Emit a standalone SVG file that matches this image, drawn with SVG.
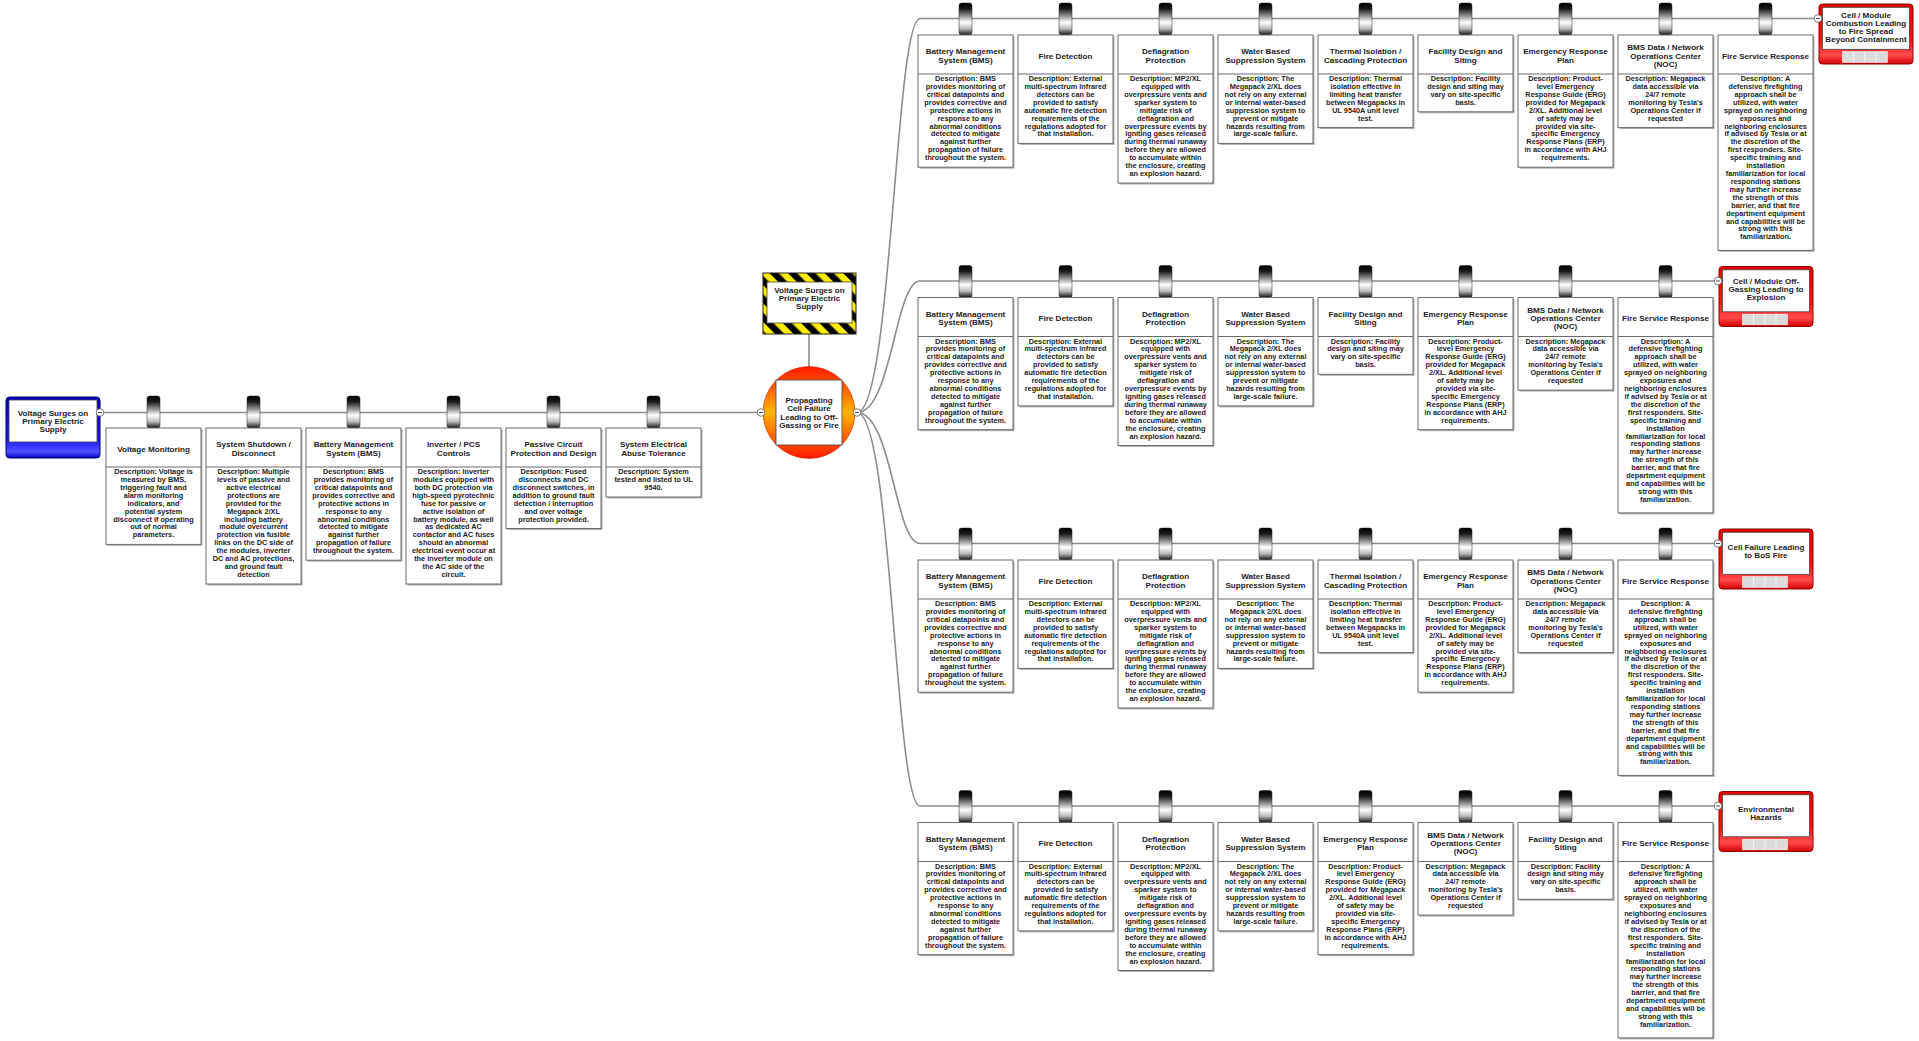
<svg xmlns="http://www.w3.org/2000/svg" width="1919" height="1041" viewBox="0 0 1919 1041">
<defs>
<style>
.t{font-family:"Liberation Sans",Arial,sans-serif;font-weight:bold;font-size:8.1px;fill:#1c1c24;text-anchor:middle}
.d{font-family:"Liberation Sans",Arial,sans-serif;font-weight:bold;font-size:7.3px;fill:#1c1c24;text-anchor:middle}
.box{fill:#fff;stroke:#6b6b6b;stroke-width:1}
.sh{fill:#b0b0b0}
.dv{stroke:#6b6b6b;stroke-width:1}
.knob{fill:url(#knobG);stroke:#222;stroke-width:0.5}
.conn{fill:none;stroke:#8c8c8c;stroke-width:1.6}
.cc{fill:#fff;stroke:#555;stroke-width:0.8}
.cm{stroke:#333;stroke-width:0.9}
.inner{fill:#fff;stroke:#444;stroke-width:0.8}
.sq{fill:#dcdcdc;stroke:#fff;stroke-width:0.6}
.cons{fill:url(#redG);stroke:#8b0000;stroke-width:1}
</style>
<linearGradient id="knobG" x1="0" y1="0" x2="0" y2="1">
<stop offset="0" stop-color="#000"/><stop offset="0.18" stop-color="#1a1a1a"/><stop offset="0.42" stop-color="#999"/><stop offset="0.6" stop-color="#fff"/><stop offset="0.8" stop-color="#bbb"/><stop offset="1" stop-color="#111"/>
</linearGradient>
<linearGradient id="redG" x1="0" y1="0" x2="0" y2="1">
<stop offset="0" stop-color="#e80000"/><stop offset="0.6" stop-color="#ff1010"/><stop offset="0.85" stop-color="#ff4a4a"/><stop offset="1" stop-color="#d40000"/>
</linearGradient>
<linearGradient id="blueG" x1="0" y1="0" x2="0" y2="1">
<stop offset="0" stop-color="#0000c0"/><stop offset="0.7" stop-color="#1a1aff"/><stop offset="0.9" stop-color="#5050ff"/><stop offset="1" stop-color="#0000d0"/>
</linearGradient>
<linearGradient id="orangeG" x1="0" y1="0" x2="0" y2="1">
<stop offset="0" stop-color="#ff1800"/><stop offset="0.5" stop-color="#ffb400"/><stop offset="1" stop-color="#ff1800"/>
</linearGradient>
<pattern id="stripes" patternUnits="userSpaceOnUse" width="13" height="13" patternTransform="rotate(-45)">
<rect width="13" height="13" fill="#ffee00"/><rect width="6.5" height="13" fill="#000"/>
</pattern>
</defs>
<rect width="1919" height="1041" fill="#fff"/>

<g id="connectors">
<path class="conn" d="M100,412.5 H761"/>
<path class="conn" d="M809,334 V367"/>
<path class="conn" d="M857,412.5 C892,412.5 895,18.5 920,18.5 H1818"/>
<path class="conn" d="M857,412.5 C892,412.5 895,281 920,281 H1718"/>
<path class="conn" d="M857,412.5 C892,412.5 895,543.5 920,543.5 H1718"/>
<path class="conn" d="M857,412.5 C892,412.5 895,806 920,806 H1718"/>
</g>

<g id="threat" transform="translate(6,397)">
<rect x="0" y="0" width="94" height="61" rx="3.5" fill="url(#blueG)" stroke="#000060"/>
<rect class="inner" x="3" y="3" width="88" height="42"/>
<text class="t" x="47"><tspan x="47" y="18.7">Voltage Surges on</tspan><tspan x="47" y="26.7">Primary Electric</tspan><tspan x="47" y="34.7">Supply</tspan></text>
<circle class="cc" cx="94" cy="15.5" r="3.8"/><line class="cm" x1="92" y1="15.5" x2="96" y2="15.5"/>
</g>

<g id="lb1" transform="translate(106,428)">
<rect class="knob" x="41" y="-32" width="13" height="32" rx="2.5"/>
<rect class="sh" x="1.5" y="1.5" width="95" height="116.4"/><rect class="box" width="95" height="116.4"/><line class="dv" x1="0" y1="39" x2="95" y2="39"/>
<text class="t" x="47.5" y="23.5">Voltage Monitoring</text>
<text class="d"><tspan x="47.5" y="46">Description: Voltage is</tspan><tspan x="47.5" dy="7.92">measured by BMS,</tspan><tspan x="47.5" dy="7.92">triggering fault and</tspan><tspan x="47.5" dy="7.92">alarm monitoring</tspan><tspan x="47.5" dy="7.92">indicators, and</tspan><tspan x="47.5" dy="7.92">potential system</tspan><tspan x="47.5" dy="7.92">disconnect if operating</tspan><tspan x="47.5" dy="7.92">out of normal</tspan><tspan x="47.5" dy="7.92">parameters.</tspan></text>
</g>
<g id="lb2" transform="translate(206,428)">
<rect class="knob" x="41" y="-32" width="13" height="32" rx="2.5"/>
<rect class="sh" x="1.5" y="1.5" width="95" height="156"/><rect class="box" width="95" height="156"/><line class="dv" x1="0" y1="39" x2="95" y2="39"/>
<text class="t"><tspan x="47.5" y="19.4">System Shutdown /</tspan><tspan x="47.5" y="27.7">Disconnect</tspan></text>
<text class="d"><tspan x="47.5" y="46">Description: Multiple</tspan><tspan x="47.5" dy="7.92">levels of passive and</tspan><tspan x="47.5" dy="7.92">active electrical</tspan><tspan x="47.5" dy="7.92">protections are</tspan><tspan x="47.5" dy="7.92">provided for the</tspan><tspan x="47.5" dy="7.92">Megapack 2/XL</tspan><tspan x="47.5" dy="7.92">including battery</tspan><tspan x="47.5" dy="7.92">module overcurrent</tspan><tspan x="47.5" dy="7.92">protection via fusible</tspan><tspan x="47.5" dy="7.92">links on the DC side of</tspan><tspan x="47.5" dy="7.92">the modules, inverter</tspan><tspan x="47.5" dy="7.92">DC and AC protections,</tspan><tspan x="47.5" dy="7.92">and ground fault</tspan><tspan x="47.5" dy="7.92">detection</tspan></text>
</g>
<g id="lb3" transform="translate(306,428)">
<rect class="knob" x="41" y="-32" width="13" height="32" rx="2.5"/>
<rect class="sh" x="1.5" y="1.5" width="95" height="132.2"/><rect class="box" width="95" height="132.2"/><line class="dv" x1="0" y1="39" x2="95" y2="39"/>
<text class="t"><tspan x="47.5" y="19.4">Battery Management</tspan><tspan x="47.5" y="27.7">System (BMS)</tspan></text>
<text class="d"><tspan x="47.5" y="46">Description: BMS</tspan><tspan x="47.5" dy="7.92">provides monitoring of</tspan><tspan x="47.5" dy="7.92">critical datapoints and</tspan><tspan x="47.5" dy="7.92">provides corrective and</tspan><tspan x="47.5" dy="7.92">protective actions in</tspan><tspan x="47.5" dy="7.92">response to any</tspan><tspan x="47.5" dy="7.92">abnormal conditions</tspan><tspan x="47.5" dy="7.92">detected to mitigate</tspan><tspan x="47.5" dy="7.92">against further</tspan><tspan x="47.5" dy="7.92">propagation of failure</tspan><tspan x="47.5" dy="7.92">throughout the system.</tspan></text>
</g>
<g id="lb4" transform="translate(406,428)">
<rect class="knob" x="41" y="-32" width="13" height="32" rx="2.5"/>
<rect class="sh" x="1.5" y="1.5" width="95" height="156"/><rect class="box" width="95" height="156"/><line class="dv" x1="0" y1="39" x2="95" y2="39"/>
<text class="t"><tspan x="47.5" y="19.4">Inverter / PCS</tspan><tspan x="47.5" y="27.7">Controls</tspan></text>
<text class="d"><tspan x="47.5" y="46">Description: Inverter</tspan><tspan x="47.5" dy="7.92">modules equipped with</tspan><tspan x="47.5" dy="7.92">both DC protection via</tspan><tspan x="47.5" dy="7.92">high-speed pyrotechnic</tspan><tspan x="47.5" dy="7.92">fuse for passive or</tspan><tspan x="47.5" dy="7.92">active isolation of</tspan><tspan x="47.5" dy="7.92">battery module, as well</tspan><tspan x="47.5" dy="7.92">as dedicated AC</tspan><tspan x="47.5" dy="7.92">contactor and AC fuses</tspan><tspan x="47.5" dy="7.92">should an abnormal</tspan><tspan x="47.5" dy="7.92">electrical event occur at</tspan><tspan x="47.5" dy="7.92">the inverter module on</tspan><tspan x="47.5" dy="7.92">the AC side of the</tspan><tspan x="47.5" dy="7.92">circuit.</tspan></text>
</g>
<g id="lb5" transform="translate(506,428)">
<rect class="knob" x="41" y="-32" width="13" height="32" rx="2.5"/>
<rect class="sh" x="1.5" y="1.5" width="95" height="100.5"/><rect class="box" width="95" height="100.5"/><line class="dv" x1="0" y1="39" x2="95" y2="39"/>
<text class="t"><tspan x="47.5" y="19.4">Passive Circuit</tspan><tspan x="47.5" y="27.7">Protection and Design</tspan></text>
<text class="d"><tspan x="47.5" y="46">Description: Fused</tspan><tspan x="47.5" dy="7.92">disconnects and DC</tspan><tspan x="47.5" dy="7.92">disconnect switches, in</tspan><tspan x="47.5" dy="7.92">addition to ground fault</tspan><tspan x="47.5" dy="7.92">detection / interruption</tspan><tspan x="47.5" dy="7.92">and over voltage</tspan><tspan x="47.5" dy="7.92">protection provided.</tspan></text>
</g>
<g id="lb6" transform="translate(606,428)">
<rect class="knob" x="41" y="-32" width="13" height="32" rx="2.5"/>
<rect class="sh" x="1.5" y="1.5" width="95" height="69"/><rect class="box" width="95" height="69"/><line class="dv" x1="0" y1="39" x2="95" y2="39"/>
<text class="t"><tspan x="47.5" y="19.4">System Electrical</tspan><tspan x="47.5" y="27.7">Abuse Tolerance</tspan></text>
<text class="d"><tspan x="47.5" y="46">Description: System</tspan><tspan x="47.5" dy="7.92">tested and listed to UL</tspan><tspan x="47.5" dy="7.92">9540.</tspan></text>
</g>

<g id="hazard">
<rect x="763" y="273" width="93" height="61" fill="url(#stripes)" stroke="#222"/>
<rect class="inner" x="767" y="282" width="85" height="41"/>
<text class="t"><tspan x="809.5" y="293">Voltage Surges on</tspan><tspan x="809.5" y="300.8">Primary Electric</tspan><tspan x="809.5" y="308.6">Supply</tspan></text>
</g>

<g id="top-event">
<circle cx="809" cy="412.5" r="46" fill="url(#orangeG)" stroke="#e02000" stroke-width="0.6"/>
<rect class="inner" x="776" y="380" width="66" height="65"/>
<text class="t"><tspan x="809" y="403">Propagating</tspan><tspan x="809" y="411.3">Cell Failure</tspan><tspan x="809" y="419.6">Leading to Off-</tspan><tspan x="809" y="427.9">Gassing or Fire</tspan></text>
<circle class="cc" cx="761" cy="412.5" r="3.8"/><line class="cm" x1="759" y1="412.5" x2="763" y2="412.5"/>
<circle class="cc" cx="857" cy="412.5" r="3.8"/><line class="cm" x1="855" y1="412.5" x2="859" y2="412.5"/>
</g>

<!-- Row 1 -->
<g id="r1b1" transform="translate(918,35)">
<rect class="knob" x="41" y="-32" width="13" height="32" rx="2.5"/>
<rect class="sh" x="1.5" y="1.5" width="95" height="132.2"/><rect class="box" width="95" height="132.2"/><line class="dv" x1="0" y1="39" x2="95" y2="39"/>
<text class="t"><tspan x="47.5" y="19.4">Battery Management</tspan><tspan x="47.5" y="27.7">System (BMS)</tspan></text>
<text class="d"><tspan x="47.5" y="46">Description: BMS</tspan><tspan x="47.5" dy="7.92">provides monitoring of</tspan><tspan x="47.5" dy="7.92">critical datapoints and</tspan><tspan x="47.5" dy="7.92">provides corrective and</tspan><tspan x="47.5" dy="7.92">protective actions in</tspan><tspan x="47.5" dy="7.92">response to any</tspan><tspan x="47.5" dy="7.92">abnormal conditions</tspan><tspan x="47.5" dy="7.92">detected to mitigate</tspan><tspan x="47.5" dy="7.92">against further</tspan><tspan x="47.5" dy="7.92">propagation of failure</tspan><tspan x="47.5" dy="7.92">throughout the system.</tspan></text>
</g>
<g id="r1b2" transform="translate(1018,35)">
<rect class="knob" x="41" y="-32" width="13" height="32" rx="2.5"/>
<rect class="sh" x="1.5" y="1.5" width="95" height="108.4"/><rect class="box" width="95" height="108.4"/><line class="dv" x1="0" y1="39" x2="95" y2="39"/>
<text class="t" x="47.5" y="23.5">Fire Detection</text>
<text class="d"><tspan x="47.5" y="46">Description: External</tspan><tspan x="47.5" dy="7.92">multi-spectrum infrared</tspan><tspan x="47.5" dy="7.92">detectors can be</tspan><tspan x="47.5" dy="7.92">provided to satisfy</tspan><tspan x="47.5" dy="7.92">automatic fire detection</tspan><tspan x="47.5" dy="7.92">requirements of the</tspan><tspan x="47.5" dy="7.92">regulations adopted for</tspan><tspan x="47.5" dy="7.92">that installation.</tspan></text>
</g>
<g id="r1b3" transform="translate(1118,35)">
<rect class="knob" x="41" y="-32" width="13" height="32" rx="2.5"/>
<rect class="sh" x="1.5" y="1.5" width="95" height="148"/><rect class="box" width="95" height="148"/><line class="dv" x1="0" y1="39" x2="95" y2="39"/>
<text class="t"><tspan x="47.5" y="19.4">Deflagration</tspan><tspan x="47.5" y="27.7">Protection</tspan></text>
<text class="d"><tspan x="47.5" y="46">Description: MP2/XL</tspan><tspan x="47.5" dy="7.92">equipped with</tspan><tspan x="47.5" dy="7.92">overpressure vents and</tspan><tspan x="47.5" dy="7.92">sparker system to</tspan><tspan x="47.5" dy="7.92">mitigate risk of</tspan><tspan x="47.5" dy="7.92">deflagration and</tspan><tspan x="47.5" dy="7.92">overpressure events by</tspan><tspan x="47.5" dy="7.92">igniting gases released</tspan><tspan x="47.5" dy="7.92">during thermal runaway</tspan><tspan x="47.5" dy="7.92">before they are allowed</tspan><tspan x="47.5" dy="7.92">to accumulate within</tspan><tspan x="47.5" dy="7.92">the enclosure, creating</tspan><tspan x="47.5" dy="7.92">an explosion hazard.</tspan></text>
</g>
<g id="r1b4" transform="translate(1218,35)">
<rect class="knob" x="41" y="-32" width="13" height="32" rx="2.5"/>
<rect class="sh" x="1.5" y="1.5" width="95" height="108.4"/><rect class="box" width="95" height="108.4"/><line class="dv" x1="0" y1="39" x2="95" y2="39"/>
<text class="t"><tspan x="47.5" y="19.4">Water Based</tspan><tspan x="47.5" y="27.7">Suppression System</tspan></text>
<text class="d"><tspan x="47.5" y="46">Description: The</tspan><tspan x="47.5" dy="7.92">Megapack 2/XL does</tspan><tspan x="47.5" dy="7.92">not rely on any external</tspan><tspan x="47.5" dy="7.92">or internal water-based</tspan><tspan x="47.5" dy="7.92">suppression system to</tspan><tspan x="47.5" dy="7.92">prevent or mitigate</tspan><tspan x="47.5" dy="7.92">hazards resulting from</tspan><tspan x="47.5" dy="7.92">large-scale failure.</tspan></text>
</g>
<g id="r1b5" transform="translate(1318,35)">
<rect class="knob" x="41" y="-32" width="13" height="32" rx="2.5"/>
<rect class="sh" x="1.5" y="1.5" width="95" height="92.6"/><rect class="box" width="95" height="92.6"/><line class="dv" x1="0" y1="39" x2="95" y2="39"/>
<text class="t"><tspan x="47.5" y="19.4">Thermal Isolation /</tspan><tspan x="47.5" y="27.7">Cascading Protection</tspan></text>
<text class="d"><tspan x="47.5" y="46">Description: Thermal</tspan><tspan x="47.5" dy="7.92">isolation effective in</tspan><tspan x="47.5" dy="7.92">limiting heat transfer</tspan><tspan x="47.5" dy="7.92">between Megapacks in</tspan><tspan x="47.5" dy="7.92">UL 9540A unit level</tspan><tspan x="47.5" dy="7.92">test.</tspan></text>
</g>
<g id="r1b6" transform="translate(1418,35)">
<rect class="knob" x="41" y="-32" width="13" height="32" rx="2.5"/>
<rect class="sh" x="1.5" y="1.5" width="95" height="76.8"/><rect class="box" width="95" height="76.8"/><line class="dv" x1="0" y1="39" x2="95" y2="39"/>
<text class="t"><tspan x="47.5" y="19.4">Facility Design and</tspan><tspan x="47.5" y="27.7">Siting</tspan></text>
<text class="d"><tspan x="47.5" y="46">Description: Facility</tspan><tspan x="47.5" dy="7.92">design and siting may</tspan><tspan x="47.5" dy="7.92">vary on site-specific</tspan><tspan x="47.5" dy="7.92">basis.</tspan></text>
</g>
<g id="r1b7" transform="translate(1518,35)">
<rect class="knob" x="41" y="-32" width="13" height="32" rx="2.5"/>
<rect class="sh" x="1.5" y="1.5" width="95" height="132.2"/><rect class="box" width="95" height="132.2"/><line class="dv" x1="0" y1="39" x2="95" y2="39"/>
<text class="t"><tspan x="47.5" y="19.4">Emergency Response</tspan><tspan x="47.5" y="27.7">Plan</tspan></text>
<text class="d"><tspan x="47.5" y="46">Description: Product-</tspan><tspan x="47.5" dy="7.92">level Emergency</tspan><tspan x="47.5" dy="7.92">Response Guide (ERG)</tspan><tspan x="47.5" dy="7.92">provided for Megapack</tspan><tspan x="47.5" dy="7.92">2/XL. Additional level</tspan><tspan x="47.5" dy="7.92">of safety may be</tspan><tspan x="47.5" dy="7.92">provided via site-</tspan><tspan x="47.5" dy="7.92">specific Emergency</tspan><tspan x="47.5" dy="7.92">Response Plans (ERP)</tspan><tspan x="47.5" dy="7.92">in accordance with AHJ</tspan><tspan x="47.5" dy="7.92">requirements.</tspan></text>
</g>
<g id="r1b8" transform="translate(1618,35)">
<rect class="knob" x="41" y="-32" width="13" height="32" rx="2.5"/>
<rect class="sh" x="1.5" y="1.5" width="95" height="92.6"/><rect class="box" width="95" height="92.6"/><line class="dv" x1="0" y1="39" x2="95" y2="39"/>
<text class="t"><tspan x="47.5" y="15.2">BMS Data / Network</tspan><tspan x="47.5" y="23.5">Operations Center</tspan><tspan x="47.5" y="31.8">(NOC)</tspan></text>
<text class="d"><tspan x="47.5" y="46">Description: Megapack</tspan><tspan x="47.5" dy="7.92">data accessible via</tspan><tspan x="47.5" dy="7.92">24/7 remote</tspan><tspan x="47.5" dy="7.92">monitoring by Tesla's</tspan><tspan x="47.5" dy="7.92">Operations Center if</tspan><tspan x="47.5" dy="7.92">requested</tspan></text>
</g>
<g id="r1b9" transform="translate(1718,35)">
<rect class="knob" x="41" y="-32" width="13" height="32" rx="2.5"/>
<rect class="sh" x="1.5" y="1.5" width="95" height="215.4"/><rect class="box" width="95" height="215.4"/><line class="dv" x1="0" y1="39" x2="95" y2="39"/>
<text class="t" x="47.5" y="23.5">Fire Service Response</text>
<text class="d"><tspan x="47.5" y="46">Description: A</tspan><tspan x="47.5" dy="7.92">defensive firefighting</tspan><tspan x="47.5" dy="7.92">approach shall be</tspan><tspan x="47.5" dy="7.92">utilized, with water</tspan><tspan x="47.5" dy="7.92">sprayed on neighboring</tspan><tspan x="47.5" dy="7.92">exposures and</tspan><tspan x="47.5" dy="7.92">neighboring enclosures</tspan><tspan x="47.5" dy="7.92">if advised by Tesla or at</tspan><tspan x="47.5" dy="7.92">the discretion of the</tspan><tspan x="47.5" dy="7.92">first responders. Site-</tspan><tspan x="47.5" dy="7.92">specific training and</tspan><tspan x="47.5" dy="7.92">installation</tspan><tspan x="47.5" dy="7.92">familiarization for local</tspan><tspan x="47.5" dy="7.92">responding stations</tspan><tspan x="47.5" dy="7.92">may further increase</tspan><tspan x="47.5" dy="7.92">the strength of this</tspan><tspan x="47.5" dy="7.92">barrier, and that fire</tspan><tspan x="47.5" dy="7.92">department equipment</tspan><tspan x="47.5" dy="7.92">and capabilities will be</tspan><tspan x="47.5" dy="7.92">strong with this</tspan><tspan x="47.5" dy="7.92">familiarization.</tspan></text>
</g>
<g id="c1" transform="translate(1819,4)">
<rect class="cons" width="94" height="60" rx="3.5"/>
<rect class="inner" x="3.5" y="3.3" width="87" height="42"/>
<rect class="sq" x="23.5" y="47.7" width="11.2" height="10.6"/><rect class="sq" x="34.7" y="47.7" width="11.2" height="10.6"/><rect class="sq" x="45.9" y="47.7" width="11.2" height="10.6"/><rect class="sq" x="57.1" y="47.7" width="11.2" height="10.6"/>
<text class="t"><tspan x="47" y="13.9">Cell / Module</tspan><tspan x="47" y="22">Combustion Leading</tspan><tspan x="47" y="30.1">to Fire Spread</tspan><tspan x="47" y="38.2">Beyond Containment</tspan></text>
<circle class="cc" cx="-1" cy="14.5" r="3.8"/><line class="cm" x1="-3" y1="14.5" x2="1" y2="14.5"/>
</g>

<!-- Row 2 -->
<g id="r2b1" transform="translate(918,297.5)">
<rect class="knob" x="41" y="-32" width="13" height="32" rx="2.5"/>
<rect class="sh" x="1.5" y="1.5" width="95" height="132.2"/><rect class="box" width="95" height="132.2"/><line class="dv" x1="0" y1="39" x2="95" y2="39"/>
<text class="t"><tspan x="47.5" y="19.4">Battery Management</tspan><tspan x="47.5" y="27.7">System (BMS)</tspan></text>
<text class="d"><tspan x="47.5" y="46">Description: BMS</tspan><tspan x="47.5" dy="7.92">provides monitoring of</tspan><tspan x="47.5" dy="7.92">critical datapoints and</tspan><tspan x="47.5" dy="7.92">provides corrective and</tspan><tspan x="47.5" dy="7.92">protective actions in</tspan><tspan x="47.5" dy="7.92">response to any</tspan><tspan x="47.5" dy="7.92">abnormal conditions</tspan><tspan x="47.5" dy="7.92">detected to mitigate</tspan><tspan x="47.5" dy="7.92">against further</tspan><tspan x="47.5" dy="7.92">propagation of failure</tspan><tspan x="47.5" dy="7.92">throughout the system.</tspan></text>
</g>
<g id="r2b2" transform="translate(1018,297.5)">
<rect class="knob" x="41" y="-32" width="13" height="32" rx="2.5"/>
<rect class="sh" x="1.5" y="1.5" width="95" height="108.4"/><rect class="box" width="95" height="108.4"/><line class="dv" x1="0" y1="39" x2="95" y2="39"/>
<text class="t" x="47.5" y="23.5">Fire Detection</text>
<text class="d"><tspan x="47.5" y="46">Description: External</tspan><tspan x="47.5" dy="7.92">multi-spectrum infrared</tspan><tspan x="47.5" dy="7.92">detectors can be</tspan><tspan x="47.5" dy="7.92">provided to satisfy</tspan><tspan x="47.5" dy="7.92">automatic fire detection</tspan><tspan x="47.5" dy="7.92">requirements of the</tspan><tspan x="47.5" dy="7.92">regulations adopted for</tspan><tspan x="47.5" dy="7.92">that installation.</tspan></text>
</g>
<g id="r2b3" transform="translate(1118,297.5)">
<rect class="knob" x="41" y="-32" width="13" height="32" rx="2.5"/>
<rect class="sh" x="1.5" y="1.5" width="95" height="148"/><rect class="box" width="95" height="148"/><line class="dv" x1="0" y1="39" x2="95" y2="39"/>
<text class="t"><tspan x="47.5" y="19.4">Deflagration</tspan><tspan x="47.5" y="27.7">Protection</tspan></text>
<text class="d"><tspan x="47.5" y="46">Description: MP2/XL</tspan><tspan x="47.5" dy="7.92">equipped with</tspan><tspan x="47.5" dy="7.92">overpressure vents and</tspan><tspan x="47.5" dy="7.92">sparker system to</tspan><tspan x="47.5" dy="7.92">mitigate risk of</tspan><tspan x="47.5" dy="7.92">deflagration and</tspan><tspan x="47.5" dy="7.92">overpressure events by</tspan><tspan x="47.5" dy="7.92">igniting gases released</tspan><tspan x="47.5" dy="7.92">during thermal runaway</tspan><tspan x="47.5" dy="7.92">before they are allowed</tspan><tspan x="47.5" dy="7.92">to accumulate within</tspan><tspan x="47.5" dy="7.92">the enclosure, creating</tspan><tspan x="47.5" dy="7.92">an explosion hazard.</tspan></text>
</g>
<g id="r2b4" transform="translate(1218,297.5)">
<rect class="knob" x="41" y="-32" width="13" height="32" rx="2.5"/>
<rect class="sh" x="1.5" y="1.5" width="95" height="108.4"/><rect class="box" width="95" height="108.4"/><line class="dv" x1="0" y1="39" x2="95" y2="39"/>
<text class="t"><tspan x="47.5" y="19.4">Water Based</tspan><tspan x="47.5" y="27.7">Suppression System</tspan></text>
<text class="d"><tspan x="47.5" y="46">Description: The</tspan><tspan x="47.5" dy="7.92">Megapack 2/XL does</tspan><tspan x="47.5" dy="7.92">not rely on any external</tspan><tspan x="47.5" dy="7.92">or internal water-based</tspan><tspan x="47.5" dy="7.92">suppression system to</tspan><tspan x="47.5" dy="7.92">prevent or mitigate</tspan><tspan x="47.5" dy="7.92">hazards resulting from</tspan><tspan x="47.5" dy="7.92">large-scale failure.</tspan></text>
</g>
<g id="r2b5" transform="translate(1318,297.5)">
<rect class="knob" x="41" y="-32" width="13" height="32" rx="2.5"/>
<rect class="sh" x="1.5" y="1.5" width="95" height="76.8"/><rect class="box" width="95" height="76.8"/><line class="dv" x1="0" y1="39" x2="95" y2="39"/>
<text class="t"><tspan x="47.5" y="19.4">Facility Design and</tspan><tspan x="47.5" y="27.7">Siting</tspan></text>
<text class="d"><tspan x="47.5" y="46">Description: Facility</tspan><tspan x="47.5" dy="7.92">design and siting may</tspan><tspan x="47.5" dy="7.92">vary on site-specific</tspan><tspan x="47.5" dy="7.92">basis.</tspan></text>
</g>
<g id="r2b6" transform="translate(1418,297.5)">
<rect class="knob" x="41" y="-32" width="13" height="32" rx="2.5"/>
<rect class="sh" x="1.5" y="1.5" width="95" height="132.2"/><rect class="box" width="95" height="132.2"/><line class="dv" x1="0" y1="39" x2="95" y2="39"/>
<text class="t"><tspan x="47.5" y="19.4">Emergency Response</tspan><tspan x="47.5" y="27.7">Plan</tspan></text>
<text class="d"><tspan x="47.5" y="46">Description: Product-</tspan><tspan x="47.5" dy="7.92">level Emergency</tspan><tspan x="47.5" dy="7.92">Response Guide (ERG)</tspan><tspan x="47.5" dy="7.92">provided for Megapack</tspan><tspan x="47.5" dy="7.92">2/XL. Additional level</tspan><tspan x="47.5" dy="7.92">of safety may be</tspan><tspan x="47.5" dy="7.92">provided via site-</tspan><tspan x="47.5" dy="7.92">specific Emergency</tspan><tspan x="47.5" dy="7.92">Response Plans (ERP)</tspan><tspan x="47.5" dy="7.92">in accordance with AHJ</tspan><tspan x="47.5" dy="7.92">requirements.</tspan></text>
</g>
<g id="r2b7" transform="translate(1518,297.5)">
<rect class="knob" x="41" y="-32" width="13" height="32" rx="2.5"/>
<rect class="sh" x="1.5" y="1.5" width="95" height="92.6"/><rect class="box" width="95" height="92.6"/><line class="dv" x1="0" y1="39" x2="95" y2="39"/>
<text class="t"><tspan x="47.5" y="15.2">BMS Data / Network</tspan><tspan x="47.5" y="23.5">Operations Center</tspan><tspan x="47.5" y="31.8">(NOC)</tspan></text>
<text class="d"><tspan x="47.5" y="46">Description: Megapack</tspan><tspan x="47.5" dy="7.92">data accessible via</tspan><tspan x="47.5" dy="7.92">24/7 remote</tspan><tspan x="47.5" dy="7.92">monitoring by Tesla's</tspan><tspan x="47.5" dy="7.92">Operations Center if</tspan><tspan x="47.5" dy="7.92">requested</tspan></text>
</g>
<g id="r2b8" transform="translate(1618,297.5)">
<rect class="knob" x="41" y="-32" width="13" height="32" rx="2.5"/>
<rect class="sh" x="1.5" y="1.5" width="95" height="215.4"/><rect class="box" width="95" height="215.4"/><line class="dv" x1="0" y1="39" x2="95" y2="39"/>
<text class="t" x="47.5" y="23.5">Fire Service Response</text>
<text class="d"><tspan x="47.5" y="46">Description: A</tspan><tspan x="47.5" dy="7.92">defensive firefighting</tspan><tspan x="47.5" dy="7.92">approach shall be</tspan><tspan x="47.5" dy="7.92">utilized, with water</tspan><tspan x="47.5" dy="7.92">sprayed on neighboring</tspan><tspan x="47.5" dy="7.92">exposures and</tspan><tspan x="47.5" dy="7.92">neighboring enclosures</tspan><tspan x="47.5" dy="7.92">if advised by Tesla or at</tspan><tspan x="47.5" dy="7.92">the discretion of the</tspan><tspan x="47.5" dy="7.92">first responders. Site-</tspan><tspan x="47.5" dy="7.92">specific training and</tspan><tspan x="47.5" dy="7.92">installation</tspan><tspan x="47.5" dy="7.92">familiarization for local</tspan><tspan x="47.5" dy="7.92">responding stations</tspan><tspan x="47.5" dy="7.92">may further increase</tspan><tspan x="47.5" dy="7.92">the strength of this</tspan><tspan x="47.5" dy="7.92">barrier, and that fire</tspan><tspan x="47.5" dy="7.92">department equipment</tspan><tspan x="47.5" dy="7.92">and capabilities will be</tspan><tspan x="47.5" dy="7.92">strong with this</tspan><tspan x="47.5" dy="7.92">familiarization.</tspan></text>
</g>
<g id="c2" transform="translate(1719,266.5)">
<rect class="cons" width="94" height="60" rx="3.5"/>
<rect class="inner" x="3.5" y="3.3" width="87" height="42"/>
<rect class="sq" x="23.5" y="47.7" width="11.2" height="10.6"/><rect class="sq" x="34.7" y="47.7" width="11.2" height="10.6"/><rect class="sq" x="45.9" y="47.7" width="11.2" height="10.6"/><rect class="sq" x="57.1" y="47.7" width="11.2" height="10.6"/>
<text class="t"><tspan x="47" y="17.7">Cell / Module Off-</tspan><tspan x="47" y="25.8">Gassing Leading to</tspan><tspan x="47" y="33.9">Explosion</tspan></text>
<circle class="cc" cx="-1" cy="14.5" r="3.8"/><line class="cm" x1="-3" y1="14.5" x2="1" y2="14.5"/>
</g>

<!-- Row 3 -->
<g id="r3b1" transform="translate(918,560)">
<rect class="knob" x="41" y="-32" width="13" height="32" rx="2.5"/>
<rect class="sh" x="1.5" y="1.5" width="95" height="132.2"/><rect class="box" width="95" height="132.2"/><line class="dv" x1="0" y1="39" x2="95" y2="39"/>
<text class="t"><tspan x="47.5" y="19.4">Battery Management</tspan><tspan x="47.5" y="27.7">System (BMS)</tspan></text>
<text class="d"><tspan x="47.5" y="46">Description: BMS</tspan><tspan x="47.5" dy="7.92">provides monitoring of</tspan><tspan x="47.5" dy="7.92">critical datapoints and</tspan><tspan x="47.5" dy="7.92">provides corrective and</tspan><tspan x="47.5" dy="7.92">protective actions in</tspan><tspan x="47.5" dy="7.92">response to any</tspan><tspan x="47.5" dy="7.92">abnormal conditions</tspan><tspan x="47.5" dy="7.92">detected to mitigate</tspan><tspan x="47.5" dy="7.92">against further</tspan><tspan x="47.5" dy="7.92">propagation of failure</tspan><tspan x="47.5" dy="7.92">throughout the system.</tspan></text>
</g>
<g id="r3b2" transform="translate(1018,560)">
<rect class="knob" x="41" y="-32" width="13" height="32" rx="2.5"/>
<rect class="sh" x="1.5" y="1.5" width="95" height="108.4"/><rect class="box" width="95" height="108.4"/><line class="dv" x1="0" y1="39" x2="95" y2="39"/>
<text class="t" x="47.5" y="23.5">Fire Detection</text>
<text class="d"><tspan x="47.5" y="46">Description: External</tspan><tspan x="47.5" dy="7.92">multi-spectrum infrared</tspan><tspan x="47.5" dy="7.92">detectors can be</tspan><tspan x="47.5" dy="7.92">provided to satisfy</tspan><tspan x="47.5" dy="7.92">automatic fire detection</tspan><tspan x="47.5" dy="7.92">requirements of the</tspan><tspan x="47.5" dy="7.92">regulations adopted for</tspan><tspan x="47.5" dy="7.92">that installation.</tspan></text>
</g>
<g id="r3b3" transform="translate(1118,560)">
<rect class="knob" x="41" y="-32" width="13" height="32" rx="2.5"/>
<rect class="sh" x="1.5" y="1.5" width="95" height="148"/><rect class="box" width="95" height="148"/><line class="dv" x1="0" y1="39" x2="95" y2="39"/>
<text class="t"><tspan x="47.5" y="19.4">Deflagration</tspan><tspan x="47.5" y="27.7">Protection</tspan></text>
<text class="d"><tspan x="47.5" y="46">Description: MP2/XL</tspan><tspan x="47.5" dy="7.92">equipped with</tspan><tspan x="47.5" dy="7.92">overpressure vents and</tspan><tspan x="47.5" dy="7.92">sparker system to</tspan><tspan x="47.5" dy="7.92">mitigate risk of</tspan><tspan x="47.5" dy="7.92">deflagration and</tspan><tspan x="47.5" dy="7.92">overpressure events by</tspan><tspan x="47.5" dy="7.92">igniting gases released</tspan><tspan x="47.5" dy="7.92">during thermal runaway</tspan><tspan x="47.5" dy="7.92">before they are allowed</tspan><tspan x="47.5" dy="7.92">to accumulate within</tspan><tspan x="47.5" dy="7.92">the enclosure, creating</tspan><tspan x="47.5" dy="7.92">an explosion hazard.</tspan></text>
</g>
<g id="r3b4" transform="translate(1218,560)">
<rect class="knob" x="41" y="-32" width="13" height="32" rx="2.5"/>
<rect class="sh" x="1.5" y="1.5" width="95" height="108.4"/><rect class="box" width="95" height="108.4"/><line class="dv" x1="0" y1="39" x2="95" y2="39"/>
<text class="t"><tspan x="47.5" y="19.4">Water Based</tspan><tspan x="47.5" y="27.7">Suppression System</tspan></text>
<text class="d"><tspan x="47.5" y="46">Description: The</tspan><tspan x="47.5" dy="7.92">Megapack 2/XL does</tspan><tspan x="47.5" dy="7.92">not rely on any external</tspan><tspan x="47.5" dy="7.92">or internal water-based</tspan><tspan x="47.5" dy="7.92">suppression system to</tspan><tspan x="47.5" dy="7.92">prevent or mitigate</tspan><tspan x="47.5" dy="7.92">hazards resulting from</tspan><tspan x="47.5" dy="7.92">large-scale failure.</tspan></text>
</g>
<g id="r3b5" transform="translate(1318,560)">
<rect class="knob" x="41" y="-32" width="13" height="32" rx="2.5"/>
<rect class="sh" x="1.5" y="1.5" width="95" height="92.6"/><rect class="box" width="95" height="92.6"/><line class="dv" x1="0" y1="39" x2="95" y2="39"/>
<text class="t"><tspan x="47.5" y="19.4">Thermal Isolation /</tspan><tspan x="47.5" y="27.7">Cascading Protection</tspan></text>
<text class="d"><tspan x="47.5" y="46">Description: Thermal</tspan><tspan x="47.5" dy="7.92">isolation effective in</tspan><tspan x="47.5" dy="7.92">limiting heat transfer</tspan><tspan x="47.5" dy="7.92">between Megapacks in</tspan><tspan x="47.5" dy="7.92">UL 9540A unit level</tspan><tspan x="47.5" dy="7.92">test.</tspan></text>
</g>
<g id="r3b6" transform="translate(1418,560)">
<rect class="knob" x="41" y="-32" width="13" height="32" rx="2.5"/>
<rect class="sh" x="1.5" y="1.5" width="95" height="132.2"/><rect class="box" width="95" height="132.2"/><line class="dv" x1="0" y1="39" x2="95" y2="39"/>
<text class="t"><tspan x="47.5" y="19.4">Emergency Response</tspan><tspan x="47.5" y="27.7">Plan</tspan></text>
<text class="d"><tspan x="47.5" y="46">Description: Product-</tspan><tspan x="47.5" dy="7.92">level Emergency</tspan><tspan x="47.5" dy="7.92">Response Guide (ERG)</tspan><tspan x="47.5" dy="7.92">provided for Megapack</tspan><tspan x="47.5" dy="7.92">2/XL. Additional level</tspan><tspan x="47.5" dy="7.92">of safety may be</tspan><tspan x="47.5" dy="7.92">provided via site-</tspan><tspan x="47.5" dy="7.92">specific Emergency</tspan><tspan x="47.5" dy="7.92">Response Plans (ERP)</tspan><tspan x="47.5" dy="7.92">in accordance with AHJ</tspan><tspan x="47.5" dy="7.92">requirements.</tspan></text>
</g>
<g id="r3b7" transform="translate(1518,560)">
<rect class="knob" x="41" y="-32" width="13" height="32" rx="2.5"/>
<rect class="sh" x="1.5" y="1.5" width="95" height="92.6"/><rect class="box" width="95" height="92.6"/><line class="dv" x1="0" y1="39" x2="95" y2="39"/>
<text class="t"><tspan x="47.5" y="15.2">BMS Data / Network</tspan><tspan x="47.5" y="23.5">Operations Center</tspan><tspan x="47.5" y="31.8">(NOC)</tspan></text>
<text class="d"><tspan x="47.5" y="46">Description: Megapack</tspan><tspan x="47.5" dy="7.92">data accessible via</tspan><tspan x="47.5" dy="7.92">24/7 remote</tspan><tspan x="47.5" dy="7.92">monitoring by Tesla's</tspan><tspan x="47.5" dy="7.92">Operations Center if</tspan><tspan x="47.5" dy="7.92">requested</tspan></text>
</g>
<g id="r3b8" transform="translate(1618,560)">
<rect class="knob" x="41" y="-32" width="13" height="32" rx="2.5"/>
<rect class="sh" x="1.5" y="1.5" width="95" height="215.4"/><rect class="box" width="95" height="215.4"/><line class="dv" x1="0" y1="39" x2="95" y2="39"/>
<text class="t" x="47.5" y="23.5">Fire Service Response</text>
<text class="d"><tspan x="47.5" y="46">Description: A</tspan><tspan x="47.5" dy="7.92">defensive firefighting</tspan><tspan x="47.5" dy="7.92">approach shall be</tspan><tspan x="47.5" dy="7.92">utilized, with water</tspan><tspan x="47.5" dy="7.92">sprayed on neighboring</tspan><tspan x="47.5" dy="7.92">exposures and</tspan><tspan x="47.5" dy="7.92">neighboring enclosures</tspan><tspan x="47.5" dy="7.92">if advised by Tesla or at</tspan><tspan x="47.5" dy="7.92">the discretion of the</tspan><tspan x="47.5" dy="7.92">first responders. Site-</tspan><tspan x="47.5" dy="7.92">specific training and</tspan><tspan x="47.5" dy="7.92">installation</tspan><tspan x="47.5" dy="7.92">familiarization for local</tspan><tspan x="47.5" dy="7.92">responding stations</tspan><tspan x="47.5" dy="7.92">may further increase</tspan><tspan x="47.5" dy="7.92">the strength of this</tspan><tspan x="47.5" dy="7.92">barrier, and that fire</tspan><tspan x="47.5" dy="7.92">department equipment</tspan><tspan x="47.5" dy="7.92">and capabilities will be</tspan><tspan x="47.5" dy="7.92">strong with this</tspan><tspan x="47.5" dy="7.92">familiarization.</tspan></text>
</g>
<g id="c3" transform="translate(1719,529)">
<rect class="cons" width="94" height="60" rx="3.5"/>
<rect class="inner" x="3.5" y="3.3" width="87" height="42"/>
<rect class="sq" x="23.5" y="47.7" width="11.2" height="10.6"/><rect class="sq" x="34.7" y="47.7" width="11.2" height="10.6"/><rect class="sq" x="45.9" y="47.7" width="11.2" height="10.6"/><rect class="sq" x="57.1" y="47.7" width="11.2" height="10.6"/>
<text class="t"><tspan x="47" y="21.3">Cell Failure Leading</tspan><tspan x="47" y="29.4">to BoS Fire</tspan></text>
<circle class="cc" cx="-1" cy="14.5" r="3.8"/><line class="cm" x1="-3" y1="14.5" x2="1" y2="14.5"/>
</g>

<!-- Row 4 -->
<g id="r4b1" transform="translate(918,822.5)">
<rect class="knob" x="41" y="-32" width="13" height="32" rx="2.5"/>
<rect class="sh" x="1.5" y="1.5" width="95" height="132.2"/><rect class="box" width="95" height="132.2"/><line class="dv" x1="0" y1="39" x2="95" y2="39"/>
<text class="t"><tspan x="47.5" y="19.4">Battery Management</tspan><tspan x="47.5" y="27.7">System (BMS)</tspan></text>
<text class="d"><tspan x="47.5" y="46">Description: BMS</tspan><tspan x="47.5" dy="7.92">provides monitoring of</tspan><tspan x="47.5" dy="7.92">critical datapoints and</tspan><tspan x="47.5" dy="7.92">provides corrective and</tspan><tspan x="47.5" dy="7.92">protective actions in</tspan><tspan x="47.5" dy="7.92">response to any</tspan><tspan x="47.5" dy="7.92">abnormal conditions</tspan><tspan x="47.5" dy="7.92">detected to mitigate</tspan><tspan x="47.5" dy="7.92">against further</tspan><tspan x="47.5" dy="7.92">propagation of failure</tspan><tspan x="47.5" dy="7.92">throughout the system.</tspan></text>
</g>
<g id="r4b2" transform="translate(1018,822.5)">
<rect class="knob" x="41" y="-32" width="13" height="32" rx="2.5"/>
<rect class="sh" x="1.5" y="1.5" width="95" height="108.4"/><rect class="box" width="95" height="108.4"/><line class="dv" x1="0" y1="39" x2="95" y2="39"/>
<text class="t" x="47.5" y="23.5">Fire Detection</text>
<text class="d"><tspan x="47.5" y="46">Description: External</tspan><tspan x="47.5" dy="7.92">multi-spectrum infrared</tspan><tspan x="47.5" dy="7.92">detectors can be</tspan><tspan x="47.5" dy="7.92">provided to satisfy</tspan><tspan x="47.5" dy="7.92">automatic fire detection</tspan><tspan x="47.5" dy="7.92">requirements of the</tspan><tspan x="47.5" dy="7.92">regulations adopted for</tspan><tspan x="47.5" dy="7.92">that installation.</tspan></text>
</g>
<g id="r4b3" transform="translate(1118,822.5)">
<rect class="knob" x="41" y="-32" width="13" height="32" rx="2.5"/>
<rect class="sh" x="1.5" y="1.5" width="95" height="148"/><rect class="box" width="95" height="148"/><line class="dv" x1="0" y1="39" x2="95" y2="39"/>
<text class="t"><tspan x="47.5" y="19.4">Deflagration</tspan><tspan x="47.5" y="27.7">Protection</tspan></text>
<text class="d"><tspan x="47.5" y="46">Description: MP2/XL</tspan><tspan x="47.5" dy="7.92">equipped with</tspan><tspan x="47.5" dy="7.92">overpressure vents and</tspan><tspan x="47.5" dy="7.92">sparker system to</tspan><tspan x="47.5" dy="7.92">mitigate risk of</tspan><tspan x="47.5" dy="7.92">deflagration and</tspan><tspan x="47.5" dy="7.92">overpressure events by</tspan><tspan x="47.5" dy="7.92">igniting gases released</tspan><tspan x="47.5" dy="7.92">during thermal runaway</tspan><tspan x="47.5" dy="7.92">before they are allowed</tspan><tspan x="47.5" dy="7.92">to accumulate within</tspan><tspan x="47.5" dy="7.92">the enclosure, creating</tspan><tspan x="47.5" dy="7.92">an explosion hazard.</tspan></text>
</g>
<g id="r4b4" transform="translate(1218,822.5)">
<rect class="knob" x="41" y="-32" width="13" height="32" rx="2.5"/>
<rect class="sh" x="1.5" y="1.5" width="95" height="108.4"/><rect class="box" width="95" height="108.4"/><line class="dv" x1="0" y1="39" x2="95" y2="39"/>
<text class="t"><tspan x="47.5" y="19.4">Water Based</tspan><tspan x="47.5" y="27.7">Suppression System</tspan></text>
<text class="d"><tspan x="47.5" y="46">Description: The</tspan><tspan x="47.5" dy="7.92">Megapack 2/XL does</tspan><tspan x="47.5" dy="7.92">not rely on any external</tspan><tspan x="47.5" dy="7.92">or internal water-based</tspan><tspan x="47.5" dy="7.92">suppression system to</tspan><tspan x="47.5" dy="7.92">prevent or mitigate</tspan><tspan x="47.5" dy="7.92">hazards resulting from</tspan><tspan x="47.5" dy="7.92">large-scale failure.</tspan></text>
</g>
<g id="r4b5" transform="translate(1318,822.5)">
<rect class="knob" x="41" y="-32" width="13" height="32" rx="2.5"/>
<rect class="sh" x="1.5" y="1.5" width="95" height="132.2"/><rect class="box" width="95" height="132.2"/><line class="dv" x1="0" y1="39" x2="95" y2="39"/>
<text class="t"><tspan x="47.5" y="19.4">Emergency Response</tspan><tspan x="47.5" y="27.7">Plan</tspan></text>
<text class="d"><tspan x="47.5" y="46">Description: Product-</tspan><tspan x="47.5" dy="7.92">level Emergency</tspan><tspan x="47.5" dy="7.92">Response Guide (ERG)</tspan><tspan x="47.5" dy="7.92">provided for Megapack</tspan><tspan x="47.5" dy="7.92">2/XL. Additional level</tspan><tspan x="47.5" dy="7.92">of safety may be</tspan><tspan x="47.5" dy="7.92">provided via site-</tspan><tspan x="47.5" dy="7.92">specific Emergency</tspan><tspan x="47.5" dy="7.92">Response Plans (ERP)</tspan><tspan x="47.5" dy="7.92">in accordance with AHJ</tspan><tspan x="47.5" dy="7.92">requirements.</tspan></text>
</g>
<g id="r4b6" transform="translate(1418,822.5)">
<rect class="knob" x="41" y="-32" width="13" height="32" rx="2.5"/>
<rect class="sh" x="1.5" y="1.5" width="95" height="92.6"/><rect class="box" width="95" height="92.6"/><line class="dv" x1="0" y1="39" x2="95" y2="39"/>
<text class="t"><tspan x="47.5" y="15.2">BMS Data / Network</tspan><tspan x="47.5" y="23.5">Operations Center</tspan><tspan x="47.5" y="31.8">(NOC)</tspan></text>
<text class="d"><tspan x="47.5" y="46">Description: Megapack</tspan><tspan x="47.5" dy="7.92">data accessible via</tspan><tspan x="47.5" dy="7.92">24/7 remote</tspan><tspan x="47.5" dy="7.92">monitoring by Tesla's</tspan><tspan x="47.5" dy="7.92">Operations Center if</tspan><tspan x="47.5" dy="7.92">requested</tspan></text>
</g>
<g id="r4b7" transform="translate(1518,822.5)">
<rect class="knob" x="41" y="-32" width="13" height="32" rx="2.5"/>
<rect class="sh" x="1.5" y="1.5" width="95" height="76.8"/><rect class="box" width="95" height="76.8"/><line class="dv" x1="0" y1="39" x2="95" y2="39"/>
<text class="t"><tspan x="47.5" y="19.4">Facility Design and</tspan><tspan x="47.5" y="27.7">Siting</tspan></text>
<text class="d"><tspan x="47.5" y="46">Description: Facility</tspan><tspan x="47.5" dy="7.92">design and siting may</tspan><tspan x="47.5" dy="7.92">vary on site-specific</tspan><tspan x="47.5" dy="7.92">basis.</tspan></text>
</g>
<g id="r4b8" transform="translate(1618,822.5)">
<rect class="knob" x="41" y="-32" width="13" height="32" rx="2.5"/>
<rect class="sh" x="1.5" y="1.5" width="95" height="215.4"/><rect class="box" width="95" height="215.4"/><line class="dv" x1="0" y1="39" x2="95" y2="39"/>
<text class="t" x="47.5" y="23.5">Fire Service Response</text>
<text class="d"><tspan x="47.5" y="46">Description: A</tspan><tspan x="47.5" dy="7.92">defensive firefighting</tspan><tspan x="47.5" dy="7.92">approach shall be</tspan><tspan x="47.5" dy="7.92">utilized, with water</tspan><tspan x="47.5" dy="7.92">sprayed on neighboring</tspan><tspan x="47.5" dy="7.92">exposures and</tspan><tspan x="47.5" dy="7.92">neighboring enclosures</tspan><tspan x="47.5" dy="7.92">if advised by Tesla or at</tspan><tspan x="47.5" dy="7.92">the discretion of the</tspan><tspan x="47.5" dy="7.92">first responders. Site-</tspan><tspan x="47.5" dy="7.92">specific training and</tspan><tspan x="47.5" dy="7.92">installation</tspan><tspan x="47.5" dy="7.92">familiarization for local</tspan><tspan x="47.5" dy="7.92">responding stations</tspan><tspan x="47.5" dy="7.92">may further increase</tspan><tspan x="47.5" dy="7.92">the strength of this</tspan><tspan x="47.5" dy="7.92">barrier, and that fire</tspan><tspan x="47.5" dy="7.92">department equipment</tspan><tspan x="47.5" dy="7.92">and capabilities will be</tspan><tspan x="47.5" dy="7.92">strong with this</tspan><tspan x="47.5" dy="7.92">familiarization.</tspan></text>
</g>
<g id="c4" transform="translate(1719,791.5)">
<rect class="cons" width="94" height="60" rx="3.5"/>
<rect class="inner" x="3.5" y="3.3" width="87" height="42"/>
<rect class="sq" x="23.5" y="47.7" width="11.2" height="10.6"/><rect class="sq" x="34.7" y="47.7" width="11.2" height="10.6"/><rect class="sq" x="45.9" y="47.7" width="11.2" height="10.6"/><rect class="sq" x="57.1" y="47.7" width="11.2" height="10.6"/>
<text class="t"><tspan x="47" y="20.8">Environmental</tspan><tspan x="47" y="28.9">Hazards</tspan></text>
<circle class="cc" cx="-1" cy="14.5" r="3.8"/><line class="cm" x1="-3" y1="14.5" x2="1" y2="14.5"/>
</g>
</svg>
